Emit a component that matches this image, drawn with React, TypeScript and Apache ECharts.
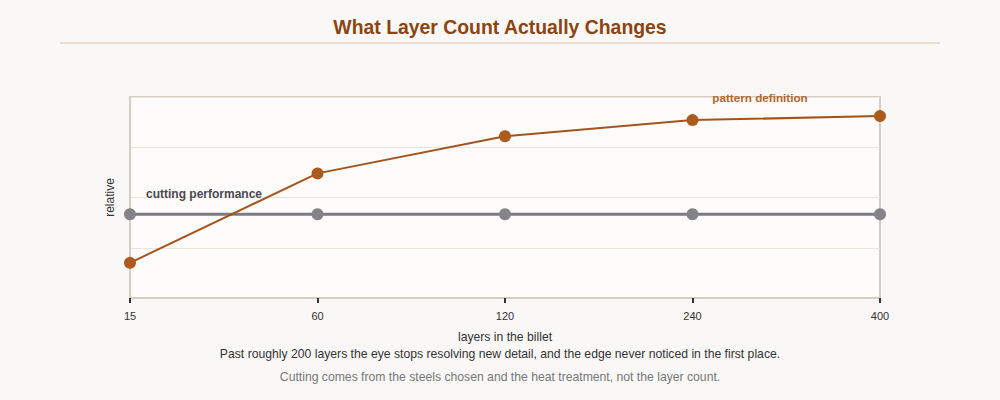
import { useEffect, useRef } from 'react'
import * as echarts from 'echarts'

// layer counts along the x axis (evenly spaced categories)
const layerCounts = ['15', '60', '120', '240', '400']
// relative scores (0–100 scale, no axis labels shown)
const patternDefinition = [17.5, 62, 80.5, 88.5, 90.5]
const cuttingPerformance = [41.7, 41.7, 41.7, 41.7, 41.7]

const FONT = '"Liberation Sans", Arial, sans-serif'
const ORANGE = '#ad5a1f'
const GREY = '#7d7a82'

export default function App() {
  const chartRef = useRef<HTMLDivElement>(null)

  useEffect(() => {
    if (!chartRef.current) return
    document.body.style.margin = '0'
    const chart = echarts.init(chartRef.current, undefined, { renderer: 'svg' })

    const option: echarts.EChartsOption = {
      backgroundColor: '#f9f8f6',
      animation: false,
      textStyle: { fontFamily: FONT },
      title: {
        text: 'What Layer Count Actually Changes',
        left: 'center',
        top: 12,
        textStyle: { color: '#8b4513', fontSize: 19.4, fontWeight: 'bold', fontFamily: FONT },
      },
      grid: {
        left: 130,
        right: 120,
        top: 97,
        bottom: 102,
        show: true,
        backgroundColor: '#fdfcfa',
        borderColor: '#d3cfc4',
        borderWidth: 2,
      },
      xAxis: {
        type: 'category',
        data: layerCounts,
        boundaryGap: false,
        name: 'layers in the billet',
        nameLocation: 'middle',
        nameGap: 33,
        nameTextStyle: { color: '#333', fontSize: 12.2, fontFamily: FONT },
        axisLine: { lineStyle: { color: '#d3cfc4', width: 2 } },
        axisTick: { show: true, length: 5, lineStyle: { color: '#333', width: 2 } },
        axisLabel: { color: '#333', fontSize: 11, margin: 12, fontFamily: FONT },
        splitLine: { show: false },
      },
      yAxis: {
        type: 'value',
        min: 0,
        max: 100,
        interval: 25,
        name: 'relative',
        nameLocation: 'middle',
        nameGap: 14,
        nameTextStyle: { color: '#333', fontSize: 12, fontFamily: FONT },
        axisLine: { show: true, lineStyle: { color: '#d3cfc4', width: 2 } },
        axisTick: { show: false },
        axisLabel: { show: false },
        splitLine: { lineStyle: { color: '#e8e5de', width: 1 } },
      },
      series: [
        {
          name: 'cutting performance',
          type: 'line',
          data: cuttingPerformance,
          symbol: 'circle',
          symbolSize: 12,
          lineStyle: { color: GREY, width: 3 },
          itemStyle: { color: '#85838a' },
          z: 2,
        },
        {
          name: 'pattern definition',
          type: 'line',
          data: patternDefinition,
          symbol: 'circle',
          symbolSize: 12,
          lineStyle: { color: '#a5531c', width: 2 },
          itemStyle: { color: ORANGE },
          z: 3,
        },
      ],
      graphic: [
        {
          type: 'line',
          shape: { x1: 60, y1: 43, x2: 940, y2: 43 },
          style: { stroke: '#ecdccd', lineWidth: 2 },
        },
        {
          type: 'text',
          x: 146,
          y: 194,
          style: {
            text: 'cutting performance',
            fill: '#4a4850',
            font: `bold 12px ${FONT}`,
            textVerticalAlign: 'middle',
          },
          z: 10,
        },
        {
          type: 'text',
          x: 760,
          y: 97,
          style: {
            text: 'pattern definition',
            fill: '#b5662e',
            font: `bold 11.7px ${FONT}`,
            textAlign: 'center',
            textVerticalAlign: 'middle',
          },
          z: 10,
        },
        {
          type: 'text',
          x: 500,
          y: 354,
          style: {
            text: 'Past roughly 200 layers the eye stops resolving new detail, and the edge never noticed in the first place.',
            fill: '#333',
            font: `12.2px ${FONT}`,
            textAlign: 'center',
            textVerticalAlign: 'middle',
          },
        },
        {
          type: 'text',
          x: 500,
          y: 377,
          style: {
            text: 'Cutting comes from the steels chosen and the heat treatment, not the layer count.',
            fill: '#777',
            font: `12.2px ${FONT}`,
            textAlign: 'center',
            textVerticalAlign: 'middle',
          },
        },
      ],
    }

    chart.setOption(option)
    return () => {
      chart.dispose()
    }
  }, [])

  return <div ref={chartRef} style={{ width: 1000, height: 400 }} />
}
